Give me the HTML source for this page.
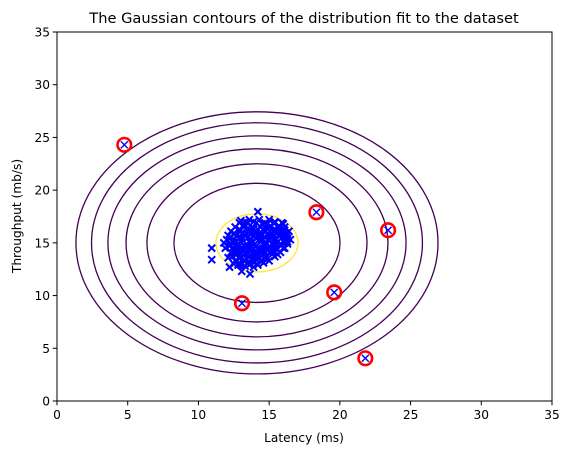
<!DOCTYPE html>
<html><head><meta charset="utf-8"><style>
html,body{margin:0;padding:0;background:#fff;}
svg{display:block;font-family:"DejaVu Sans","Liberation Sans",sans-serif;}
</style></head><body>
<svg id="chart" width="571" height="455" viewBox="0 0 571 455">
<rect width="571" height="455" fill="#fff"/>
<text x="304" y="23" font-size="14.6" text-anchor="middle" fill="#000">The Gaussian contours of the distribution fit to the dataset</text>
<g id="contours"></g>
<g id="points"></g>
<g id="outliers"></g>
<rect x="57" y="32" width="495" height="369" fill="none" stroke="#000" stroke-width="1"/>
<g id="xticks"></g>
<g id="yticks"></g>
<text x="304" y="442" font-size="12.2" text-anchor="middle">Latency (ms)</text>
<text x="21" y="216" font-size="12.2" text-anchor="middle" transform="rotate(-90 21 216)">Throughput (mb/s)</text>
</svg>
<script>
const xTicks = [0,5,10,15,20,25,30,35];
const yTicks = [0,5,10,15,20,25,30,35];
const center = [14.14, 15.0];
const contourRx = [2.90, 5.87, 7.78, 9.26, 10.54, 11.70, 12.80];
const contourRy = [2.75, 5.65, 7.50, 8.92, 10.15, 11.39, 12.43];
const contourColors = ["#fde725","#440154","#440154","#440154","#440154","#440154","#440154"];
const outliers = [[4.76,24.3],[18.34,17.9],[23.41,16.2],[19.6,10.3],[13.08,9.27],[21.8,4.05]];
const points = [
[10.94,14.5],[10.94,13.4],[14.2,17.95],[12.2,12.7],[13.65,12.05],[13.06,12.3],[16.1,14.5],[16.3,15.1],
[13.6,17.2],[14.3,17.2],[15.0,17.2],
[12.9,16.9],[13.5,16.9],[14.1,16.9],[14.7,16.9],[15.4,16.9],[15.9,16.9],
[12.6,16.5],[13.2,16.5],[13.8,16.5],[14.4,16.5],[15.0,16.5],[15.6,16.5],[16.1,16.5],
[12.3,16.1],[12.9,16.1],[13.5,16.1],[14.1,16.1],[14.7,16.1],[15.3,16.1],[15.9,16.1],[16.4,16.1],
[12.1,15.7],[12.7,15.7],[13.3,15.7],[13.9,15.7],[14.5,15.7],[15.1,15.7],[15.7,15.7],[16.3,15.7],
[12.0,15.3],[12.5,15.3],[13.1,15.3],[13.7,15.3],[14.3,15.3],[14.9,15.3],[15.5,15.3],[16.1,15.3],[16.5,15.3],
[12.2,14.9],[12.8,14.9],[13.4,14.9],[14.0,14.9],[14.6,14.9],[15.2,14.9],[15.8,14.9],[16.3,14.9],
[11.9,14.5],[12.4,14.5],[13.0,14.5],[13.6,14.5],[14.2,14.5],[14.8,14.5],[15.4,14.5],[16.0,14.5],
[12.3,14.1],[12.9,14.1],[13.5,14.1],[14.1,14.1],[14.7,14.1],[15.3,14.1],[15.8,14.1],
[12.4,13.7],[13.0,13.7],[13.6,13.7],[14.2,13.7],[14.8,13.7],[15.4,13.7],
[12.6,13.3],[13.2,13.3],[13.8,13.3],[14.4,13.3],[15.0,13.3],
[13.0,12.9],[13.6,12.9],[14.2,12.9],
[13.2,16.7],[13.9,16.3],[14.6,16.2],[15.2,15.9],[13.0,15.5],[13.6,15.1],[14.2,15.6],[14.8,15.0],[15.4,14.7],
[12.7,14.3],[13.3,14.7],[13.9,13.9],[14.5,14.3],[15.1,14.2],[12.9,13.5],[13.5,13.1],[14.1,13.4],[14.7,13.5],
[12.5,15.0],[15.7,16.2],[16.2,15.9],[11.8,15.0],[12.1,13.6],[12.8,12.9],[15.6,13.9],[16.0,15.6],[13.3,17.0],[14.8,16.7],
[14.2,14.0],[13.8,14.6],[14.5,15.3],[14.0,16.0],[13.4,15.9],[15.0,15.7],[15.3,15.3],[12.6,14.7],
[13.9,17.0],[14.5,16.8],[15.1,16.6],[15.7,16.6],[12.9,16.3],[13.5,16.4],[14.2,16.3],[14.9,16.3],[15.5,16.2],[16.1,16.2],
[12.5,15.9],[13.1,15.9],[13.7,15.8],[14.3,15.9],[14.9,15.9],[15.5,15.9],[16.1,15.9],[12.3,15.5],[12.9,15.4],[13.5,15.5],
[14.1,15.4],[14.7,15.5],[15.3,15.6],[15.9,15.5],[16.3,15.4],[12.4,15.1],[13.0,15.1],[13.8,15.1],[14.4,15.1],[15.0,15.2],
[15.6,15.1],[16.1,15.0],[12.2,14.7],[12.9,14.7],[13.5,14.7],[14.1,14.7],[14.7,14.7],[15.3,14.9],[15.9,14.8],[12.6,14.3],
[13.2,14.3],[13.8,14.3],[14.4,14.4],[15.0,14.4],[15.6,14.4],[12.7,13.9],[13.3,13.9],[14.0,13.8],[14.6,13.9],[15.2,13.9],
[12.9,13.1],[13.4,13.5],[14.0,13.2],[14.6,13.1],[13.3,12.8],[13.9,12.7],[12.5,13.0],[16.0,16.8],[13.0,17.1],[15.4,17.0]
];
const X0=57, X1=552, Y0=401, Y1=32;
function sx(v){return X0+(v-0)/(35-0)*(X1-X0);}
function sy(v){return Y0-(v-0)/(35-0)*(Y0-Y1);}
const NS="http://www.w3.org/2000/svg";
function mk(tag,attrs,parent){const e=document.createElementNS(NS,tag);for(const k in attrs)e.setAttribute(k,attrs[k]);parent.appendChild(e);return e;}
const gc=document.getElementById('contours');
for(let i=0;i<contourRx.length;i++){
  const e=mk('ellipse',{cx:sx(center[0]),cy:sy(center[1]),rx:contourRx[i]*(X1-X0)/35,ry:contourRy[i]*(Y0-Y1)/35,fill:'none',stroke:contourColors[i],'stroke-width':1.3},gc);
  
  
}
const gp=document.getElementById('points');
function cross(x,y,parent,w){
  const s=3.5;
  const p=mk('path',{d:`M${x-s},${y-s}L${x+s},${y+s}M${x-s},${y+s}L${x+s},${y-s}`,stroke:'#0000ff','stroke-width':w,fill:'none'},parent);
  return p;
}
points.forEach(pt=>{
  const p=cross(sx(pt[0]),sy(pt[1]),gp,2.0);
  
  
});
const go=document.getElementById('outliers');
outliers.forEach(pt=>{
  const p=cross(sx(pt[0]),sy(pt[1]),go,1.4);
  
  
  const c=mk('circle',{cx:sx(pt[0]),cy:sy(pt[1]),r:6.8,fill:'none',stroke:'#ff0000','stroke-width':2.6},go);
  
  
});
const gx=document.getElementById('xticks');
xTicks.forEach(t=>{
  const l=mk('line',{x1:sx(t),x2:sx(t),y1:Y0,y2:Y0+4.3,stroke:'#000','stroke-width':1},gx);
  
  
  const tx=mk('text',{x:sx(t),y:Y0+18,'font-size':12.2,'text-anchor':'middle'},gx);
  tx.textContent=t;
  
  
});
const gy=document.getElementById('yticks');
yTicks.forEach(t=>{
  const l=mk('line',{x1:X0-4.3,x2:X0,y1:sy(t),y2:sy(t),stroke:'#000','stroke-width':1},gy);
  
  
  const tx=mk('text',{x:X0-7,y:sy(t)+4.5,'font-size':12.2,'text-anchor':'end'},gy);
  tx.textContent=t;
  
  
});
</script>
</body></html>
